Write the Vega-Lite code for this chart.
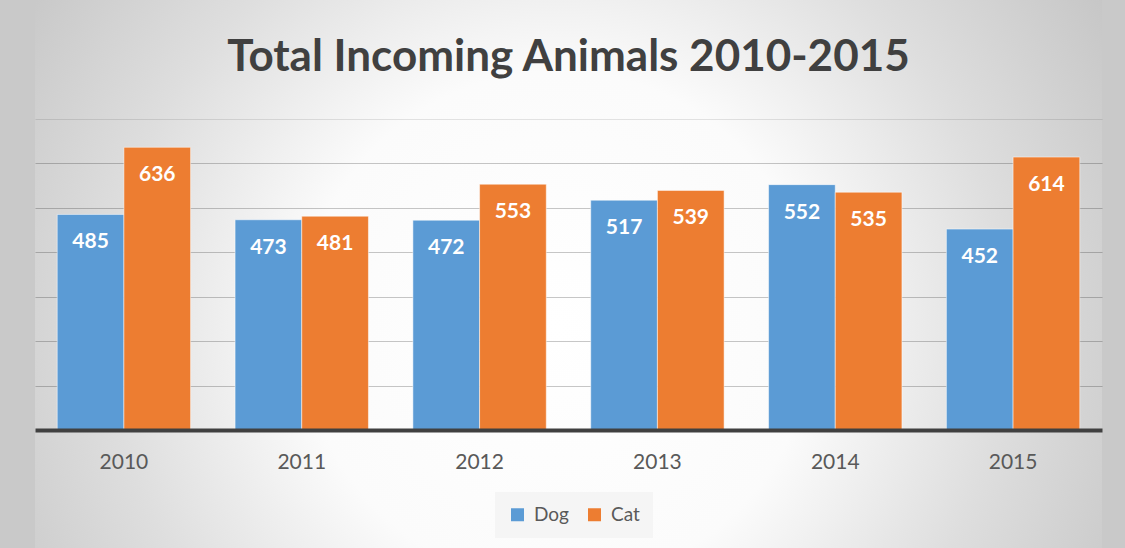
{
  "$schema": "https://vega.github.io/schema/vega-lite/v6.json",
  "width": 1125,
  "height": 548,
  "autosize": {"type": "fit", "contains": "padding"},
  "padding": {"left": 35, "right": 23, "top": 0, "bottom": 0},
  "background": "#c9c9c9",
  "view": {
    "stroke": null,
    "fill": {"expr": "{gradient: 'radial', x1: 0.49, y1: 0.55, r1: 0, x2: 0.49, y2: 0.55, r2: 0.6, stops: [{offset: 0, color: '#ffffff'}, {offset: 0.4, color: '#fbfbfb'}, {offset: 0.7, color: '#dedede'}, {offset: 1, color: '#c6c6c6'}]}"}
  },
  "title": {
    "text": "Total Incoming Animals 2010-2015",
    "font": "Lato",
    "fontSize": 44,
    "fontWeight": "bold",
    "color": "#404040",
    "anchor": "middle",
    "baseline": "alphabetic",
    "offset": -115
  },
  "data": {
    "values": [
      {"year": "2010", "animal": "Dog", "count": 485},
      {"year": "2010", "animal": "Cat", "count": 636},
      {"year": "2011", "animal": "Dog", "count": 473},
      {"year": "2011", "animal": "Cat", "count": 481},
      {"year": "2012", "animal": "Dog", "count": 472},
      {"year": "2012", "animal": "Cat", "count": 553},
      {"year": "2013", "animal": "Dog", "count": 517},
      {"year": "2013", "animal": "Cat", "count": 539},
      {"year": "2014", "animal": "Dog", "count": 552},
      {"year": "2014", "animal": "Cat", "count": 535},
      {"year": "2015", "animal": "Dog", "count": 452},
      {"year": "2015", "animal": "Cat", "count": 614}
    ]
  },
  "encoding": {
    "x": {
      "field": "year",
      "type": "nominal",
      "scale": {"paddingInner": 0.25, "paddingOuter": 0.125},
      "axis": {
        "title": null,
        "labelAngle": 0,
        "labelFont": "Lato",
        "labelFontSize": 21,
        "labelColor": "#595959",
        "labelBaseline": "alphabetic",
        "labelPadding": 38,
        "ticks": false,
        "tickSize": 0,
        "domainColor": "#404040",
        "domainWidth": 4,
        "offset": -118,
        "grid": false,
        "zindex": 1
      }
    },
    "xOffset": {"field": "animal", "sort": ["Dog", "Cat"], "scale": {"paddingInner": 0, "paddingOuter": 0}},
    "y": {
      "field": "count",
      "type": "quantitative",
      "stack": null,
      "scale": {"domain": [-265.5, 967.4], "nice": false, "zero": false},
      "axis": {
        "title": null,
        "labels": false,
        "ticks": false,
        "domain": false,
        "values": [100, 200, 300, 400, 500, 600, 700],
        "gridColor": "#000000",
        "gridOpacity": {"condition": {"test": "datum.value == 700", "value": 0.1}, "value": 0.22}
      }
    }
  },
  "layer": [
    {
      "mark": {"type": "bar", "stroke": "#ffffff", "strokeOpacity": 0.5, "strokeWidth": 1},
      "encoding": {
        "y2": {"datum": 0},
        "color": {
          "field": "animal",
          "type": "nominal",
          "sort": ["Dog", "Cat"],
          "scale": {"domain": ["Dog", "Cat"], "range": ["#5B9BD5", "#ED7D31"]},
          "legend": {
            "title": null,
            "orient": "none",
            "legendX": 460,
            "legendY": 492,
            "direction": "horizontal",
            "fillColor": "#f5f5f5",
            "padding": 13,
            "labelFont": "Lato",
            "labelFontSize": 19,
            "labelColor": "#595959",
            "symbolType": "square",
            "symbolSize": 169,
            "symbolStrokeWidth": 0,
            "labelOffset": 7,
            "columnPadding": 16
          }
        }
      }
    },
    {
      "mark": {"type": "text", "baseline": "alphabetic", "dy": 34, "font": "Lato", "fontSize": 21, "fontWeight": "bold", "color": "#ffffff"},
      "encoding": {"text": {"field": "count", "type": "quantitative"}}
    }
  ]
}
